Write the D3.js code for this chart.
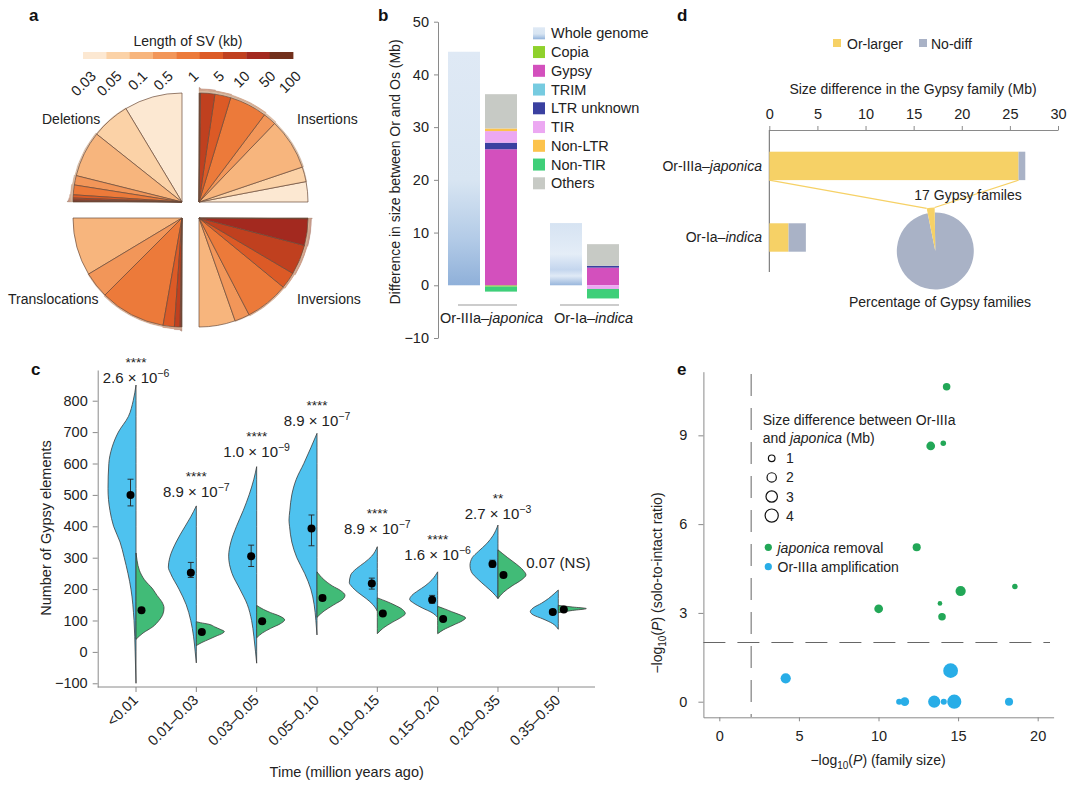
<!DOCTYPE html>
<html><head><meta charset="utf-8">
<script src="https://cdn.jsdelivr.net/npm/d3@7"></script>
<style>body{margin:0;background:#fff}svg{font-family:"Liberation Sans",Arial,Helvetica,sans-serif}</style>
</head><body><svg id="chart" width="1080" height="790"></svg>
<script>
// ================= DATA =================
// Panel a
const svBins = ["0.03","0.05","0.1","0.5","1","5","10","50","100"];
const svDeletions      = [31, 20.5, 24.5, 5, 5.2, 1.7, 1.0, 0.6, 0.5];
const svInsertions     = [10.8, 7.9, 27.4, 7, 20, 8.5, 7.6, 0.5, 0.3];
const svTranslocations = [0, 0, 31, 14, 35, 6, 3, 0.7, 0.3];
const svInversions     = [0, 0, 19.4, 8, 23.3, 8.8, 16, 14.2, 0.4];
const svTypes = ["Deletions","Insertions","Translocations","Inversions"];

// Panel b
const bGroups = ["Or-IIIa–japonica","Or-Ia–indica"];
const bWholeGenome = [44.3, 11.8];
const teTypes = ["Copia","Gypsy","TRIM","LTR unknown","TIR","Non-LTR","Non-TIR","Others"];
const teJaponica = [-0.25, 25.8, 0, 1.25, 2.2, 0.5, -0.95, 6.5];
const teIndica   = [0, 3.35, 0, 0.35, -0.7, 0, -1.8, 4.1];
const bTicks = [-10, 0, 10, 20, 30, 40, 50];

// Panel d
const dGroups = ["Or-IIIa–japonica","Or-Ia–indica"];
const dOrLarger = [25.9, 2.0];
const dNoDiff = [0.7, 1.8];
const dTicks = [0, 5, 10, 15, 20, 25, 30];
const pieClasses = ["Or-larger","No-diff"];
const pieFamilies = [17, 560];

// Panel c
const timeBins = ["<0.01","0.01–0.03","0.03–0.05","0.05–0.10","0.10–0.15","0.15–0.20","0.20–0.35","0.35–0.50"];
const cTicks = [-100, 0, 100, 200, 300, 400, 500, 600, 700, 800];
const orMean    = [500, 252, 305, 393, 218, 166, 280, 127];
const orErrLow  = [465, 237, 272, 338, 200, 155, 270, 120];
const orErrHigh = [550, 285, 340, 436, 235, 180, 292, 134];
const jpMean    = [133, 63, 98, 172, 122, 105, 245, 135];
const jpErrLow  = [129, 60, 94, 164, 118, 101, 240, 132];
const jpErrHigh = [138, 66, 102, 180, 126, 109, 250, 138];
const pMantissa = ["2.6","8.9","1.0","8.9","8.9","1.6","2.7","0.07 (NS)"];
const pExponent = ["−6","−7","−9","−7","−7","−6","−3",""];
const pStars    = ["****","****","****","****","****","****","**",""];
const pLabelY   = [875, 512, 640, 739, 395, 312, 443, 286];
// relative density outlines [value, density]
const orDensity = [
 [[-100,0],[0,0.03],[100,0.07],[200,0.18],[300,0.42],[350,0.57],[400,0.8],[450,0.93],[520,1],[600,0.97],[650,0.86],[700,0.63],[750,0.27],[800,0.1],[850,0]],
 [[-35,0],[0,0.04],[50,0.1],[100,0.2],[150,0.36],[200,0.62],[250,0.92],[270,1],[300,0.95],[350,0.72],[400,0.4],[430,0.2],[465,0]],
 [[-36,0],[0,0.04],[50,0.1],[100,0.18],[150,0.33],[200,0.6],[250,0.88],[305,1],[350,0.92],[400,0.72],[450,0.48],[500,0.27],[550,0.1],[590,0]],
 [[54,0],[100,0.04],[150,0.1],[200,0.22],[250,0.44],[300,0.72],[350,0.9],[400,0.98],[420,1],[450,0.97],[500,0.9],[550,0.74],[600,0.47],[650,0.22],[696,0]],
 [[130,0],[150,0.15],[170,0.4],[190,0.7],[210,0.93],[220,1],[245,0.95],[265,0.75],[285,0.45],[305,0.2],[335,0]],
 [[110,0],[125,0.2],[140,0.55],[155,0.85],[167,1],[180,0.92],[195,0.7],[210,0.45],[230,0.2],[255,0]],
 [[170,0],[190,0.2],[210,0.45],[230,0.7],[255,0.95],[275,1],[300,0.92],[320,0.7],[345,0.4],[370,0.18],[404,0]],
 [[72,0],[90,0.2],[105,0.55],[118,0.9],[128,1],[140,0.9],[155,0.6],[170,0.35],[185,0.15],[197,0]]
];
const jpDensity = [
 [[40,0],[60,0.25],[80,0.6],[100,0.82],[120,0.96],[140,1],[160,0.92],[180,0.75],[200,0.6],[230,0.3],[260,0.12],[290,0.04],[315,0]],
 [[20,0],[30,0.2],[40,0.45],[50,0.7],[60,0.95],[65,1],[72,0.85],[80,0.65],[88,0.45],[93,0.15],[96,0]],
 [[45,0],[60,0.2],[75,0.5],[90,0.85],[102,1],[115,0.8],[125,0.5],[135,0.25],[148,0]],
 [[110,0],[130,0.25],[150,0.6],[170,0.95],[180,1],[195,0.85],[210,0.55],[230,0.25],[255,0]],
 [[58,0],[75,0.2],[95,0.55],[110,0.85],[122,1],[135,0.9],[150,0.6],[160,0.35],[172,0]],
 [[58,0],[70,0.2],[85,0.55],[100,0.9],[108,1],[118,0.8],[128,0.5],[137,0.25],[145,0]],
 [[170,0],[190,0.2],[210,0.5],[230,0.85],[245,1],[260,0.9],[280,0.65],[300,0.35],[325,0]],
 [[125,0],[132,0.5],[138,1],[143,0.5],[148,0]]
];

// Panel e
const eRemovalX    = [14.28, 13.28, 14.07, 12.4, 18.57, 15.16, 10.01, 13.86, 13.99];
const eRemovalY    = [10.64, 8.64, 8.73, 5.22, 3.89, 3.74, 3.14, 3.32, 2.87];
const eRemovalSize = [1.3, 1.75, 0.7, 1.5, 0.7, 2.4, 1.75, 0.5, 1.3];
const eAmpX    = [4.17, 14.53, 11.3, 11.65, 13.5, 14.1, 14.76, 18.2];
const eAmpY    = [0.79, 1.05, 0, 0, 0, 0, 0, 0];
const eAmpSize = [2.4, 5.0, 0.85, 1.75, 3.4, 0.85, 4.6, 1.5];
const eSizeLegend = [1, 2, 3, 4];
const eXTicks = [0, 5, 10, 15, 20];
const eYTicks = [0, 3, 6, 9];
const eThreshold = 2;

// ================= STYLE =================
const svColors = ["#fce8d2","#fbd2a7","#f7b57d","#f29659","#ec7a3a","#dc5a26","#c0401f","#a3291f","#72301c"];
const teColors = {"Copia":"#8fd12c","Gypsy":"#d350bd","TRIM":"#76cbe0","LTR unknown":"#3a40a0","TIR":"#eca8f2","Non-LTR":"#fcc34c","Non-TIR":"#3fcf79","Others":"#c7cac5"};
const cBlue = "#4ec2ef", cGreen = "#41bb77";
const eGreen = "#22a757", eBlue = "#28ade7";
const yellow = "#f6d166", slate = "#a9b2c6";
const axisCol = "#8a8a8a", txt = "#222";

const svg = d3.select("#chart");
svg.append("rect").attr("width",1080).attr("height",790).attr("fill","#fff");
const defs = svg.append("defs");

function styleAxis(g){
  g.selectAll("path.domain").attr("stroke",axisCol).attr("stroke-width",1);
  g.selectAll(".tick line").attr("stroke",axisCol).attr("stroke-width",1);
  g.selectAll(".tick text").attr("fill",txt).style("font-size","14.5px").style("font-family","inherit");
}

// panel labels
[["a",29,21],["b",378,21],["d",677,21],["c",31,375],["e",677,375]].forEach(([t,x,y])=>{
  svg.append("text").attr("x",x).attr("y",y).text(t).attr("font-weight","bold").attr("font-size",17).attr("fill","#111");
});

// ================= PANEL A =================
{
  const g = svg.append("g");
  g.append("text").attr("x",188).attr("y",46).attr("text-anchor","middle").attr("font-size",14).attr("fill",txt).text("Length of  SV (kb)");
  const cb = d3.scaleBand().domain(svBins).range([83,293]);
  g.selectAll("rect.cb").data(svBins).join("rect").attr("x",d=>cb(d)).attr("y",52).attr("width",cb.bandwidth()+0.4).attr("height",7).attr("fill",(d,i)=>svColors[i]);
  const cbl = d3.scalePoint().domain(svBins).range([97,302]);
  g.selectAll("text.cbl").data(svBins).join("text").attr("transform",d=>`translate(${cbl(d)},77) rotate(-45)`)
    .attr("text-anchor","end").attr("font-size",14.5).attr("fill",txt).text(d=>d);

  const R = 109, dR = 0.7;
  const quads = [
    {vals:svDeletions, cx:182, cy:202, a0:0, a1:-Math.PI/2, lx:42, ly:124},
    {vals:svInsertions, cx:199, cy:202, a0:Math.PI/2, a1:0, lx:297, ly:124},
    {vals:svTranslocations, cx:182, cy:218, a0:1.5*Math.PI, a1:Math.PI, lx:8, ly:304},
    {vals:svInversions, cx:199, cy:218, a0:Math.PI, a1:Math.PI/2, lx:297, ly:304}
  ];
  quads.forEach((q,qi)=>{
    const qg = g.append("g").attr("transform",`translate(${q.cx},${q.cy})`);
    const arcs = d3.pie().sort(null).value(d=>d).startAngle(q.a0).endAngle(q.a1)(q.vals);
    const first = q.vals.findIndex(v=>v>0);
    for(let k=8;k>first;k--){
      const j = k-first;
      qg.append("path").attr("d", d3.arc()({innerRadius:R+(j-1)*dR, outerRadius:R+j*dR, startAngle:arcs[k].startAngle, endAngle:q.a1}))
        .attr("fill",d3.interpolateRgb(svColors[k],"#ffffff")(0.45)).attr("stroke","#a58a78").attr("stroke-width",0.3);
    }
    qg.selectAll("path.sl").data(arcs.filter(a=>a.data>0)).join("path")
      .attr("d", d3.arc().innerRadius(0).outerRadius(R))
      .attr("fill",d=>svColors[d.index]).attr("stroke","#6a4a3a").attr("stroke-width",0.7).attr("stroke-linejoin","round");
    g.append("text").attr("x",q.lx).attr("y",q.ly).attr("font-size",14).attr("fill",txt).text(svTypes[qi]);
  });
}

// ================= PANEL B =================
{
  const g = svg.append("g");
  const y = d3.scaleLinear().domain([-10,50]).range([338,21.7]);
  const ax = g.append("g").attr("transform","translate(438,0)").call(d3.axisLeft(y).tickValues(bTicks).tickSize(4).tickSizeOuter(0).tickPadding(5).tickFormat(d=>d<0?"−"+Math.abs(d):d));
  styleAxis(ax);
  g.append("text").attr("transform","translate(400,172) rotate(-90)").attr("text-anchor","middle").attr("font-size",14).attr("fill",txt).text("Difference in size between Or and Os (Mb)");

  const xg = d3.scaleBand().domain(bGroups).range([448,619]).paddingInner(0.3235);
  const xs = d3.scaleBand().domain(["whole","te"]).range([0,xg.bandwidth()]).paddingInner(0.135);

  const grads = [[[0,"#dfe9f5"],[0.55,"#d8e5f2"],[0.8,"#b3cbe7"],[1,"#8fb0d9"]],[[0,"#d6e3f2"],[0.5,"#e4edf7"],[0.75,"#c4d6ee"],[0.85,"#e0eaf6"],[1,"#98b6dc"]]];
  grads.forEach((st,i)=>{
    const lg = defs.append("linearGradient").attr("id","wg"+i).attr("x1",0).attr("y1",0).attr("x2",0).attr("y2",1);
    st.forEach(s=>lg.append("stop").attr("offset",s[0]).attr("stop-color",s[1]));
  });
  bGroups.forEach((gr,i)=>{
    g.append("rect").attr("x",xg(gr)+xs("whole")).attr("width",xs.bandwidth())
      .attr("y",y(bWholeGenome[i])).attr("height",y(0)-y(bWholeGenome[i])).attr("fill",`url(#wg${i})`);
  });
  const rows = bGroups.map((gr,i)=>{const o={group:gr};teTypes.forEach((t,j)=>o[t]=(i===0?teJaponica:teIndica)[j]);return o;});
  const series = d3.stack().keys(teTypes).offset(d3.stackOffsetDiverging)(rows);
  series.forEach(s=>{
    g.selectAll(null).data(s.filter(d=>d[1]!==d[0])).join("rect")
      .attr("x",d=>xg(d.data.group)+xs("te")).attr("width",xs.bandwidth())
      .attr("y",d=>y(Math.max(d[0],d[1]))).attr("height",d=>Math.abs(y(d[0])-y(d[1])))
      .attr("fill",teColors[s.key]);
  });
  bGroups.forEach(gr=>{
    const x0 = xg(gr)+10, x1 = xg(gr)+xg.bandwidth();
    g.append("line").attr("x1",x0).attr("x2",x1).attr("y1",305).attr("y2",305).attr("stroke","#999").attr("stroke-width",1);
    const parts = gr.split("–");
    const t = g.append("text").attr("x",(x0+x1)/2+4).attr("y",323).attr("text-anchor","middle").attr("font-size",14.5).attr("fill",txt);
    t.append("tspan").text(parts[0]+"–");
    t.append("tspan").attr("font-style","italic").text(parts[1]);
  });
  const legItems = ["Whole genome"].concat(teTypes);
  legItems.forEach((it,i)=>{
    const yy = 33.3 + i*18.75;
    g.append("rect").attr("x",533).attr("y",yy-6).attr("width",12).attr("height",12)
      .attr("fill", i===0 ? "url(#wg0)" : teColors[it]);
    g.append("text").attr("x",551).attr("y",yy+5).attr("font-size",14.5).attr("fill",txt).text(it);
  });
}

// ================= PANEL D =================
{
  const g = svg.append("g");
  [[pieClasses[0],yellow,833,847],[pieClasses[1],slate,919,931]].forEach(([t,c,sx,tx])=>{
    g.append("rect").attr("x",sx).attr("y",39).attr("width",8).attr("height",8).attr("fill",c);
    g.append("text").attr("x",tx).attr("y",48.5).attr("font-size",14).attr("fill",txt).text(t);
  });
  const x = d3.scaleLinear().domain([0,30]).range([769.3,1058]);
  const ax = g.append("g").attr("transform","translate(0,130)").call(d3.axisTop(x).tickValues(dTicks).tickSize(4).tickSizeOuter(0).tickPadding(7));
  styleAxis(ax);
  g.append("text").attr("x",913).attr("y",94).attr("text-anchor","middle").attr("font-size",14).attr("fill",txt).text("Size difference in the Gypsy family (Mb)");
  g.append("line").attr("x1",769.3).attr("x2",769.3).attr("y1",130).attr("y2",272).attr("stroke","#666").attr("stroke-width",1);
  const yb = d3.scaleBand().domain(dGroups).range([151.7,251.7]).paddingInner(0.603);
  dGroups.forEach((gr,i)=>{
    g.append("rect").attr("x",x(0)).attr("y",yb(gr)).attr("width",x(dOrLarger[i])-x(0)).attr("height",yb.bandwidth()).attr("fill",yellow);
    g.append("rect").attr("x",x(dOrLarger[i])).attr("y",yb(gr)).attr("width",x(dOrLarger[i]+dNoDiff[i])-x(dOrLarger[i])).attr("height",yb.bandwidth()).attr("fill",slate);
    const parts = gr.split("–");
    const t = g.append("text").attr("x",762).attr("y",yb(gr)+yb.bandwidth()/2+5).attr("text-anchor","end").attr("font-size",14).attr("fill",txt);
    t.append("tspan").text(parts[0]+"–");
    t.append("tspan").attr("font-style","italic").text(parts[1]);
  });
  const pcx = 935.3, pcy = 251, pr = 38.5;
  const parcs = d3.pie().sort(null).value(d=>d).startAngle(-0.2).endAngle(2*Math.PI-0.2)(pieFamilies);
  const pg = g.append("g").attr("transform",`translate(${pcx},${pcy})`);
  pg.append("path").attr("d",d3.arc()({innerRadius:0,outerRadius:pr,startAngle:parcs[1].startAngle,endAngle:parcs[1].endAngle})).attr("fill",slate);
  const yr = pr+5;
  pg.append("path").attr("d",d3.arc()({innerRadius:0,outerRadius:yr,startAngle:parcs[0].startAngle,endAngle:parcs[0].endAngle})).attr("fill",yellow);
  const pt = a=>[pcx+yr*Math.sin(a), pcy-yr*Math.cos(a)];
  const yBot = yb(dGroups[0])+yb.bandwidth();
  const pl = pt(parcs[0].startAngle), prr = pt(parcs[0].endAngle);
  g.append("line").attr("x1",x(0)).attr("y1",yBot).attr("x2",pl[0]).attr("y2",pl[1]).attr("stroke",yellow).attr("stroke-width",1.2);
  g.append("line").attr("x1",x(dOrLarger[0])).attr("y1",yBot).attr("x2",prr[0]).attr("y2",prr[1]).attr("stroke",yellow).attr("stroke-width",1.2);
  g.append("text").attr("x",968).attr("y",200).attr("text-anchor","middle").attr("font-size",14).attr("fill",txt).text(pieFamilies[0]+" Gypsy familes");
  g.append("text").attr("x",940).attr("y",307).attr("text-anchor","middle").attr("font-size",14).attr("fill",txt).text("Percentage of Gypsy families");
}

// ================= PANEL C =================
{
  const g = svg.append("g");
  const y = d3.scaleLinear().domain([-111.8,897.8]).range([687,370]);
  const x = d3.scalePoint().domain(timeBins).range([136,558.3]);
  const w = d3.scaleLinear().domain([0,1]).range([0,28]);
  const ay = g.append("g").attr("transform","translate(97.7,0)").call(d3.axisLeft(y).tickValues(cTicks).tickSize(5).tickSizeOuter(0).tickPadding(5).tickFormat(d=>d<0?"−"+Math.abs(d):d));
  styleAxis(ay);
  g.append("line").attr("x1",97.7).attr("x2",595).attr("y1",687).attr("y2",687).attr("stroke",axisCol);
  timeBins.forEach(t=>{
    g.append("line").attr("x1",x(t)).attr("x2",x(t)).attr("y1",687).attr("y2",692).attr("stroke",axisCol);
    g.append("text").attr("transform",`translate(${x(t)+3},701) rotate(-45)`).attr("text-anchor","end").attr("font-size",14.5).attr("fill",txt).text(t);
  });
  g.append("text").attr("transform","translate(51,528) rotate(-90)").attr("text-anchor","middle").attr("font-size",14.5).attr("fill",txt).text("Number of Gypsy elements");
  g.append("text").attr("x",346.7).attr("y",777).attr("text-anchor","middle").attr("font-size",14.5).attr("fill",txt).text("Time (million years ago)");

  const half = (cx, dens, side, col)=>{
    const area = d3.area().curve(d3.curveMonotoneY).y(d=>y(d[0])).x0(cx).x1(d=>cx+side*w(d[1]));
    g.append("path").datum(dens).attr("d",area).attr("fill",col).attr("stroke","#3b3b3b").attr("stroke-width",0.8);
  };
  const errbar = (cx, lo, hi)=>{
    g.append("line").attr("x1",cx).attr("x2",cx).attr("y1",y(lo)).attr("y2",y(hi)).attr("stroke","#222").attr("stroke-width",0.9);
    [lo,hi].forEach(v=>g.append("line").attr("x1",cx-3).attr("x2",cx+3).attr("y1",y(v)).attr("y2",y(v)).attr("stroke","#222").attr("stroke-width",0.9));
  };
  timeBins.forEach((t,i)=>{
    const cx = x(t);
    half(cx, orDensity[i], -1, cBlue);
    half(cx, jpDensity[i], 1, cGreen);
    errbar(cx-5.5, orErrLow[i], orErrHigh[i]);
    errbar(cx+5.5, jpErrLow[i], jpErrHigh[i]);
    g.append("circle").attr("cx",cx-5.5).attr("cy",y(orMean[i])).attr("r",4).attr("fill","#000");
    g.append("circle").attr("cx",cx+5.5).attr("cy",y(jpMean[i])).attr("r",4).attr("fill","#000");
    const ly = y(pLabelY[i]);
    const tt = g.append("text").attr("x",cx).attr("y",ly+6).attr("text-anchor","middle").attr("font-size",15).attr("fill",txt);
    if(pExponent[i]){
      tt.append("tspan").text(pMantissa[i]+" × 10");
      tt.append("tspan").attr("dy",-6).attr("font-size",10.5).text(pExponent[i]);
    } else tt.text(pMantissa[i]);
    if(pStars[i]) g.append("text").attr("x",cx).attr("y",ly-10).attr("text-anchor","middle").attr("font-size",13.5).attr("fill",txt).text(pStars[i]);
  });
}

// ================= PANEL E =================
{
  const g = svg.append("g");
  const x = d3.scaleLinear().domain([-1,21]).range([703.4,1053.6]);
  const y = d3.scaleLinear().domain([-0.527,11.15]).range([717.3,371.7]);
  const r = d3.scaleSqrt().domain([0,4]).range([0,6.6]);
  const ax = g.append("g").attr("transform","translate(0,717.3)").call(d3.axisBottom(x).tickValues(eXTicks).tickSize(4).tickSizeOuter(0).tickPadding(9));
  styleAxis(ax);
  const ay = g.append("g").attr("transform","translate(703.4,0)").call(d3.axisLeft(y).tickValues(eYTicks).tickSize(5).tickSizeOuter(0).tickPadding(11));
  styleAxis(ay);
  g.append("line").attr("x1",x(eThreshold)).attr("x2",x(eThreshold)).attr("y1",374).attr("y2",717).attr("stroke","#666").attr("stroke-dasharray","22,12");
  g.append("line").attr("x1",703.4).attr("x2",1050).attr("y1",y(eThreshold)).attr("y2",y(eThreshold)).attr("stroke","#666").attr("stroke-dasharray","22,12");
  eRemovalX.forEach((v,i)=>g.append("circle").attr("cx",x(v)).attr("cy",y(eRemovalY[i])).attr("r",r(eRemovalSize[i])).attr("fill",eGreen));
  eAmpX.forEach((v,i)=>g.append("circle").attr("cx",x(v)).attr("cy",y(eAmpY[i])).attr("r",r(eAmpSize[i])).attr("fill",eBlue));
  const xt = g.append("text").attr("x",878).attr("y",765).attr("text-anchor","middle").attr("font-size",14).attr("fill",txt);
  xt.append("tspan").text("−log");
  xt.append("tspan").attr("dy",4).attr("font-size",10).text("10");
  xt.append("tspan").attr("dy",-4).text("(");
  xt.append("tspan").attr("font-style","italic").text("P");
  xt.append("tspan").text(") (family size)");
  const yt = g.append("text").attr("transform","translate(662,583) rotate(-90)").attr("text-anchor","middle").attr("font-size",14).attr("fill",txt);
  yt.append("tspan").text("−log");
  yt.append("tspan").attr("dy",4).attr("font-size",10).text("10");
  yt.append("tspan").attr("dy",-4).text("(");
  yt.append("tspan").attr("font-style","italic").text("P");
  yt.append("tspan").text(") (solo-to-intact ratio)");
  g.append("text").attr("x",762.7).attr("y",425).attr("font-size",14).attr("fill",txt).text("Size difference between Or-IIIa");
  const l2 = g.append("text").attr("x",762.7).attr("y",443).attr("font-size",14).attr("fill",txt);
  l2.append("tspan").text("and ");
  l2.append("tspan").attr("font-style","italic").text("japonica");
  l2.append("tspan").text(" (Mb)");
  eSizeLegend.forEach((s,i)=>{
    const yy = 458.3 + i*19.1;
    g.append("circle").attr("cx",771.7).attr("cy",yy).attr("r",r(s)).attr("fill","none").attr("stroke","#111").attr("stroke-width",1.2);
    g.append("text").attr("x",786).attr("y",yy+5).attr("font-size",14).attr("fill",txt).text(s);
  });
  g.append("circle").attr("cx",768.3).attr("cy",547.3).attr("r",3.6).attr("fill",eGreen);
  const t1 = g.append("text").attr("x",777.5).attr("y",552.5).attr("font-size",14).attr("fill",txt);
  t1.append("tspan").attr("font-style","italic").text("japonica");
  t1.append("tspan").text(" removal");
  g.append("circle").attr("cx",768.3).attr("cy",566.7).attr("r",3.6).attr("fill",eBlue);
  g.append("text").attr("x",777.5).attr("y",572).attr("font-size",14).attr("fill",txt).text("Or-IIIa amplification");
}
</script></body></html>
